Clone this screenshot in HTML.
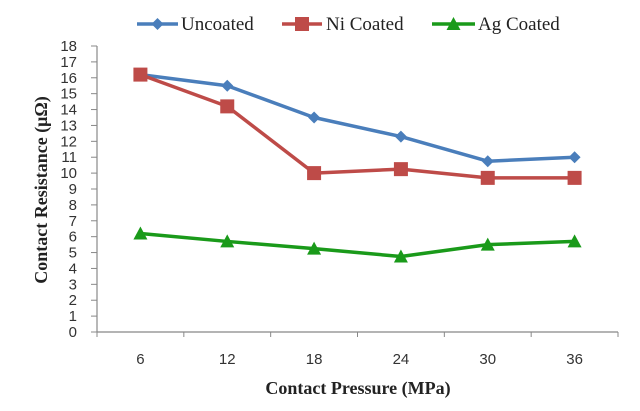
<!DOCTYPE html>
<html><head><meta charset="utf-8"><style>
html,body{margin:0;padding:0;background:#fff;}
svg{display:block;}
</style></head><body>
<svg id="chart" width="640" height="411" xmlns="http://www.w3.org/2000/svg">
<g id="legend"></g>
<g id="axes"></g>
<g id="series"></g>
<text x="358" y="394" text-anchor="middle" font-family="Liberation Serif, serif" font-weight="bold" font-size="18" fill="#222">Contact Pressure (MPa)</text>
<text transform="translate(47,190) rotate(-90)" text-anchor="middle" font-family="Liberation Serif, serif" font-weight="bold" font-size="18" fill="#222">Contact Resistance  (μΩ)</text>
</svg>
<script>
const categories = ["6","12","18","24","30","36"];
const uncoated = [16.2,15.5,13.5,12.3,10.75,11.0];
const niCoated = [16.2,14.2,10.0,10.25,9.7,9.7];
const agCoated = [6.2,5.7,5.25,4.75,5.5,5.7];
const yTicks = [0,1,2,3,4,5,6,7,8,9,10,11,12,13,14,15,16,17,18];
const seriesNames = ["Uncoated","Ni Coated","Ag Coated"];

const NS="http://www.w3.org/2000/svg";
const X0=97, X1=618, Y0=332, Y18=46;
const band=(X1-X0)/categories.length;
function xPos(i){return X0+band*(i+0.5);}
function yPos(v){return Y0-(Y0-Y18)*v/18;}
function mk(tag,attrs,parent){const e=document.createElementNS(NS,tag);for(const k in attrs)e.setAttribute(k,attrs[k]);parent.appendChild(e);return e;}
const axes=document.getElementById('axes');
mk('line',{x1:X0,y1:Y18,x2:X0,y2:Y0,stroke:'#888','stroke-width':1.2},axes);
mk('line',{x1:X0,y1:Y0,x2:X1,y2:Y0,stroke:'#888','stroke-width':1.2},axes);
yTicks.forEach(v=>{
  const t=mk('line',{x1:X0-6,y1:yPos(v),x2:X0,y2:yPos(v),stroke:'#888'},axes);
  
  
  const l=mk('text',{x:77,y:yPos(v)+5,'text-anchor':'end','font-family':'Liberation Sans, sans-serif','font-size':15,fill:'#333'},axes);
  l.textContent=v;
  
  
});
for(let i=0;i<=categories.length;i++){
  const x=X0+band*i;
  const t=mk('line',{x1:x,y1:Y0,x2:x,y2:Y0+5,stroke:'#888'},axes);
  
  
}
categories.forEach((c,i)=>{
  const l=mk('text',{x:xPos(i),y:364,'text-anchor':'middle','font-family':'Liberation Sans, sans-serif','font-size':15,fill:'#333'},axes);
  l.textContent=c;
  
  
});
const colors=['#4a7ebb','#be4b48','#1a9a1a'];
const shapes=['diamond','square','triangle'];
function marker(g,shape,x,y,color){
  let m;
  if(shape==='diamond') m=mk('polygon',{points:`${x},${y-6} ${x+6},${y} ${x},${y+6} ${x-6},${y}`,fill:color},g);
  else if(shape==='square') m=mk('rect',{x:x-7,y:y-7,width:14,height:14,fill:color},g);
  else m=mk('polygon',{points:`${x},${y-7} ${x+7},${y+6} ${x-7},${y+6}`,fill:color},g);
  return m;
}
const seriesG=document.getElementById('series');
[uncoated,niCoated,agCoated].forEach((data,s)=>{
  const g=mk('g',{},seriesG);
  
  
  const pl=mk('polyline',{points:data.map((v,i)=>xPos(i)+','+yPos(v)).join(' '),fill:'none',stroke:colors[s],'stroke-width':3.5,'stroke-linejoin':'round'},g);
  
  
  data.forEach((v,i)=>{
    const m=marker(g,shapes[s],xPos(i),yPos(v),colors[s]);
    
    
  });
});
const legend=document.getElementById('legend');
const lx=[[137,178,181],[282,322,326],[432,475,478]];
seriesNames.forEach((n,s)=>{
  const g=mk('g',{},legend);
  
  
  mk('line',{x1:lx[s][0],y1:24,x2:lx[s][1],y2:24,stroke:colors[s],'stroke-width':3.5},g);
  marker(g,shapes[s],(lx[s][0]+lx[s][1])/2,24,colors[s]);
  const t=mk('text',{x:lx[s][2],y:30,'font-family':'Liberation Serif, serif','font-size':19,fill:'#222'},g);
  t.textContent=n;
});
</script>
</body></html>
